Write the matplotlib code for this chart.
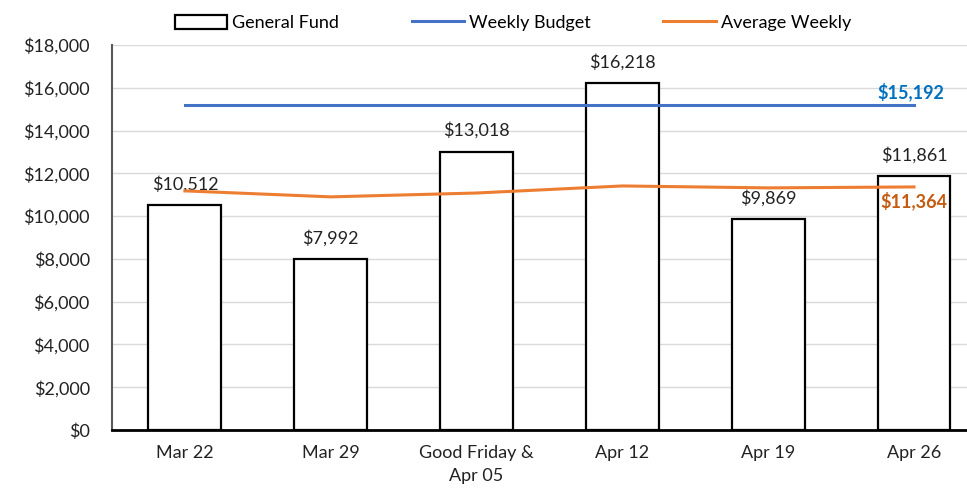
import matplotlib
matplotlib.use("Agg")
import matplotlib.pyplot as plt
from matplotlib.patches import Patch
from matplotlib.lines import Line2D

categories = ["Mar 22", "Mar 29", "Good Friday &\nApr 05", "Apr 12", "Apr 19", "Apr 26"]
general_fund = [10512, 7992, 13018, 16218, 9869, 11861]
weekly_budget = [15192, 15192, 15192, 15192, 15192, 15192]
average_weekly = [11180, 10900, 11080, 11410, 11320, 11364]

plt.rcParams['font.family'] = ['Lato', 'DejaVu Sans']
fig = plt.figure(figsize=(9.67, 4.91), dpi=100)
W, H = 967, 491
left, right_px, top, bottom = 112, 967, 45, 430
ax = fig.add_axes([left / W, 1 - bottom / H, (right_px - left) / W, (bottom - top) / H])

FS = 13
x = list(range(len(categories)))
ax.bar(x, general_fund, width=0.5, facecolor="white", edgecolor="black", linewidth=1.6, zorder=3)
ax.plot(x, weekly_budget, color="#4472C4", linewidth=2.2, zorder=4)
ax.plot(x, average_weekly, color="#ED7D31", linewidth=2.2, zorder=4)

for xi, v in zip(x, general_fund):
    ax.annotate(f"${v:,}", (xi, v), xytext=(0, 9), textcoords="offset points",
                ha="center", va="bottom", fontsize=FS, color="#222222")

ax.annotate(f"${weekly_budget[-1]:,}", (x[-1], weekly_budget[-1]), xytext=(-2, 3),
            textcoords="offset points", ha="center", va="bottom", fontsize=FS,
            fontweight="bold", color="#0070C0")
ax.annotate(f"${average_weekly[-1]:,}", (x[-1], average_weekly[-1]), xytext=(0, -3),
            textcoords="offset points", ha="center", va="top", fontsize=FS,
            fontweight="bold", color="#C55A11")

step_px = (914 - 185) / 5
ax.set_xlim(-0.5, 5 + (967 - 914) / step_px)
ax.set_ylim(0, 18000)
ax.set_yticks(range(0, 18001, 2000))
ax.set_yticklabels([f"${v:,}" for v in range(0, 18001, 2000)])
ax.set_xticks(x)
ax.set_xticklabels(categories, linespacing=1.55)
ax.tick_params(axis="both", length=0, labelsize=FS, colors="#222222")
ax.tick_params(axis="x", pad=11)
ax.tick_params(axis="y", pad=16)
ax.grid(axis="y", color="#D9D9D9", linewidth=1, zorder=0)
ax.set_axisbelow(True)
for s in ["top", "right"]:
    ax.spines[s].set_visible(False)
ax.spines["left"].set_color("#595959")
ax.spines["left"].set_linewidth(1.5)
ax.spines["bottom"].set_color("black")
ax.spines["bottom"].set_linewidth(2)

handles = [Patch(facecolor="white", edgecolor="black", linewidth=1.6),
           Line2D([0], [0], color="#4472C4", linewidth=2.2),
           Line2D([0], [0], color="#ED7D31", linewidth=2.2)]
fig.legend(handles, ["General Fund", "Weekly Budget", "Average Weekly"],
           loc="center", bbox_to_anchor=(513 / W, 1 - 23 / H), ncol=3, frameon=False,
           fontsize=FS, handlelength=2.9, handleheight=0.8, columnspacing=4.0,
           handletextpad=0.3)

fig.savefig("out.png", dpi=100)
